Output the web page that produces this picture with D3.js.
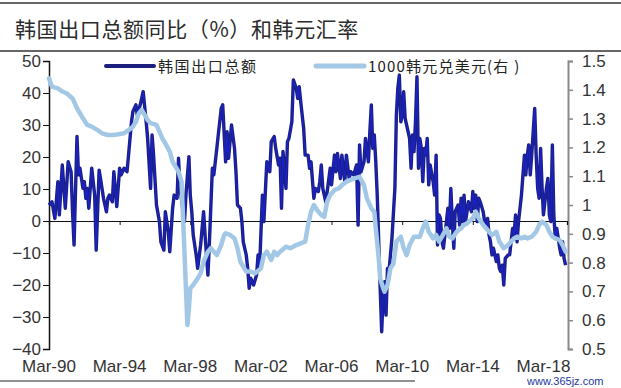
<!DOCTYPE html>
<html>
<head>
<meta charset="utf-8">
<script src="https://cdn.jsdelivr.net/npm/d3@7"></script>
<style>
  body { margin: 0; background: #fff; }
  text { font-family: "Liberation Sans", Arial, sans-serif; }
  .cjk { font-family: "Noto Sans CJK SC", sans-serif; }
</style>
</head>
<body>
<div id="chart"></div>
<script>
var title = "韩国出口总额同比（%）和韩元汇率";
var seriesNames = ["韩国出口总额", "1000韩元兑美元(右 )"];
var leftTicks = [-40, -30, -20, -10, 0, 10, 20, 30, 40, 50];
var rightTicks = [0.5, 0.6, 0.7, 0.8, 0.9, 1, 1.1, 1.2, 1.3, 1.4, 1.5];
var tickYears = [1990, 1994, 1998, 2002, 2006, 2010, 2014, 2018];

// 韩国出口总额同比 (%)
var exportDates = ["1990-03","1990-05","1990-07","1990-09","1990-10","1990-12","1991-02","1991-04","1991-06","1991-07","1991-08","1991-10","1991-11","1991-12","1992-02","1992-03","1992-04","1992-05","1992-06","1992-08","1992-10","1992-11","1993-01","1993-03","1993-04","1993-06","1993-07","1993-08","1993-10","1993-11","1994-01","1994-03","1994-04","1994-06","1994-08","1994-09","1994-11","1994-12","1995-02","1995-03","1995-05","1995-07","1995-09","1995-10","1995-12","1996-01","1996-02","1996-04","1996-06","1996-07","1996-09","1996-10","1996-12","1997-01","1997-03","1997-04","1997-06","1997-07","1997-08","1997-11","1997-12","1998-02","1998-03","1998-04","1998-05","1998-07","1998-08","1998-10","1998-11","1998-12","1999-01","1999-03","1999-04","1999-06","1999-07","1999-09","1999-10","1999-12","2000-01","2000-03","2000-04","2000-05","2000-07","2000-09","2000-10","2000-11","2001-01","2001-02","2001-03","2001-05","2001-06","2001-07","2001-08","2001-10","2001-12","2002-01","2002-02","2002-04","2002-05","2002-06","2002-07","2002-09","2002-10","2002-12","2003-01","2003-03","2003-04","2003-05","2003-06","2003-07","2003-08","2003-09","2003-10","2003-12","2004-01","2004-03","2004-04","2004-05","2004-06","2004-08","2004-09","2004-11","2004-12","2005-01","2005-02","2005-03","2005-04","2005-06","2005-07","2005-08","2005-09","2005-11","2005-12","2006-02","2006-03","2006-05","2006-06","2006-07","2006-09","2006-10","2006-12","2007-01","2007-03","2007-04","2007-06","2007-08","2007-09","2007-10","2007-11","2008-01","2008-02","2008-04","2008-05","2008-06","2008-07","2008-08","2008-09","2008-10","2008-11","2008-12","2009-01","2009-02","2009-03","2009-04","2009-05","2009-06","2009-08","2009-10","2009-11","2009-12","2010-01","2010-02","2010-03","2010-04","2010-05","2010-07","2010-08","2010-09","2010-10","2010-11","2010-12","2011-01","2011-02","2011-03","2011-04","2011-05","2011-06","2011-07","2011-08","2011-09","2011-10","2011-12","2012-01","2012-02","2012-03","2012-04","2012-05","2012-06","2012-07","2012-09","2012-10","2012-11","2012-12","2013-01","2013-02","2013-03","2013-05","2013-06","2013-07","2013-08","2013-09","2013-10","2013-11","2013-12","2014-02","2014-03","2014-04","2014-05","2014-06","2014-07","2014-08","2014-10","2014-11","2014-12","2015-01","2015-02","2015-03","2015-04","2015-05","2015-07","2015-08","2015-09","2015-10","2015-11","2015-12","2016-01","2016-03","2016-04","2016-05","2016-06","2016-07","2016-08","2016-09","2016-10","2016-12","2017-01","2017-02","2017-03","2017-04","2017-05","2017-06","2017-07","2017-09","2017-10","2017-11","2017-12","2018-01","2018-02","2018-03","2018-05","2018-06","2018-07","2018-08","2018-09","2018-10","2018-11","2018-12","2019-02","2019-03","2019-04","2019-05","2019-06"];
var exportYoY = [5.0,6.0,0.8,12.3,1.9,17.5,4.0,18.5,15.4,2.9,-7.5,26.4,14.4,16.5,10.2,12.3,7.1,10.2,4.0,16.5,8.1,-9.1,15.9,10.2,7.1,2.9,7.1,8.1,6.0,15.4,4.5,16.5,14.4,16.5,15.4,20.6,31.0,34.2,36.3,33.1,36.3,40.4,31.0,25.8,10.2,26.9,20.6,5.0,-0.2,-6.5,-9.1,2.9,-3.3,-9.6,4.0,8.1,7.1,19.6,10.2,-0.2,8.1,20.1,8.1,2.9,-4.4,-10.6,-14.8,-7.5,-2.3,2.9,-4.4,-16.9,-6.5,16.5,14.4,22.7,26.9,35.2,36.3,18.5,27.9,19.6,30.0,22.7,15.4,5.0,4.0,-0.2,-6.5,-10.6,-14.8,-21.0,-17.9,-20.0,-16.9,-10.6,-14.8,8.1,-0.2,9.2,18.5,15.4,24.8,26.4,22.7,17.5,19.6,4.0,21.7,16.5,10.2,24.8,25.8,31.0,44.1,41.5,38.3,42.0,37.3,29.0,20.6,20.6,16.5,18.5,12.3,7.1,10.2,9.2,12.3,17.5,10.2,6.0,9.2,16.5,11.3,20.6,15.4,21.1,13.3,20.6,12.3,20.6,13.3,15.4,14.4,17.5,-1.3,23.8,15.4,18.5,25.8,18.5,27.9,36.3,22.7,26.9,18.5,8.1,-6.5,-21.0,-34.6,-23.1,-19.0,-29.4,-14.8,-15.8,-5.4,10.2,33.1,41.5,45.6,31.0,33.1,40.4,32.1,27.9,25.8,16.5,26.9,21.7,31.0,45.1,16.5,25.8,22.7,12.3,22.7,20.6,25.8,11.3,17.5,12.3,8.1,20.6,-7.5,1.9,0.8,-6.5,-8.5,-0.2,4.0,-2.3,10.2,-0.2,-8.5,2.9,5.0,-1.3,7.1,-0.2,8.1,-0.2,2.9,6.0,2.9,9.2,4.0,8.1,-0.2,7.1,6.0,2.9,-0.2,-2.3,0.8,-4.4,-6.5,-10.6,-8.5,-12.7,-10.6,-14.8,-15.8,-13.8,-20.0,-11.7,-10.6,-10.6,-6.5,-2.3,-4.4,1.9,-6.5,-0.2,8.1,14.4,20.6,14.4,20.6,23.8,14.4,20.6,35.2,20.6,10.2,7.1,22.7,10.2,1.9,10.2,13.3,1.9,-0.2,23.8,1.9,-5.4,-2.3,-8.5,-10.6,-6.5,-11.7,-13.8];

// 1000韩元兑美元 (右轴)
var krwDates = ["1990-03","1990-05","1990-09","1990-12","1991-03","1991-07","1991-10","1992-02","1992-05","1992-08","1992-12","1993-03","1993-07","1993-10","1994-01","1994-06","1994-09","1994-12","1995-02","1995-04","1995-06","1995-08","1995-10","1995-12","1996-04","1996-06","1996-08","1996-10","1997-01","1997-03","1997-05","1997-07","1997-09","1997-10","1997-12","1998-01","1998-02","1998-03","1998-05","1998-08","1998-10","1998-12","1999-03","1999-05","1999-07","1999-09","1999-12","2000-02","2000-03","2000-06","2000-09","2000-11","2001-01","2001-05","2001-08","2001-11","2002-03","2002-05","2002-07","2002-10","2002-12","2003-02","2003-04","2003-08","2003-11","2004-03","2004-06","2004-09","2004-11","2005-01","2005-03","2005-05","2005-08","2005-10","2005-12","2006-02","2006-05","2006-08","2006-10","2007-01","2007-04","2007-07","2007-10","2008-01","2008-03","2008-06","2008-08","2008-09","2008-11","2008-12","2009-02","2009-03","2009-05","2009-07","2009-09","2009-11","2010-02","2010-04","2010-06","2010-08","2010-11","2011-03","2011-05","2011-07","2011-09","2011-12","2012-02","2012-04","2012-06","2012-09","2012-11","2013-01","2013-04","2013-07","2013-09","2013-11","2014-03","2014-05","2014-07","2014-10","2014-12","2015-02","2015-04","2015-07","2015-09","2015-12","2016-03","2016-05","2016-07","2016-09","2016-12","2017-02","2017-04","2017-07","2017-10","2017-12","2018-02","2018-05","2018-07","2018-09","2018-11","2019-02","2019-04","2019-06"];
var krwUsd = [1.440,1.411,1.405,1.394,1.388,1.370,1.336,1.301,1.278,1.272,1.260,1.249,1.243,1.243,1.245,1.249,1.260,1.272,1.289,1.318,1.330,1.313,1.295,1.284,1.278,1.255,1.231,1.214,1.185,1.150,1.133,1.116,1.081,0.965,0.711,0.583,0.641,0.711,0.722,0.745,0.763,0.803,0.838,0.850,0.838,0.826,0.861,0.896,0.902,0.896,0.884,0.850,0.803,0.769,0.769,0.763,0.780,0.826,0.838,0.809,0.838,0.826,0.838,0.855,0.850,0.861,0.867,0.873,0.931,0.977,1.000,0.983,0.965,0.959,1.012,1.035,1.052,1.058,1.069,1.081,1.087,1.093,1.098,1.069,1.023,0.988,0.977,0.919,0.815,0.745,0.711,0.699,0.722,0.780,0.797,0.873,0.890,0.850,0.826,0.861,0.890,0.890,0.919,0.942,0.907,0.884,0.896,0.873,0.890,0.919,0.890,0.884,0.907,0.919,0.931,0.936,0.954,0.977,0.954,0.931,0.919,0.907,0.896,0.907,0.873,0.850,0.861,0.873,0.884,0.890,0.884,0.890,0.884,0.890,0.907,0.931,0.942,0.931,0.907,0.890,0.884,0.878,0.861,0.838];

var width = 621, height = 388;
var parse = d3.timeParse("%Y-%m");

var svg = d3.select("#chart").append("svg")
    .attr("width", width)
    .attr("height", height);

// header
svg.append("line").attr("x1", 0).attr("x2", width).attr("y1", 3).attr("y2", 3)
    .attr("stroke", "#333").attr("stroke-width", 1.5);
svg.append("text").attr("class", "cjk")
    .attr("x", 15).attr("y", 37)
    .attr("font-size", 21).attr("letter-spacing", 0.6)
    .attr("fill", "#2b2b2b")
    .text(title);
svg.append("line").attr("x1", 0).attr("x2", width).attr("y1", 51).attr("y2", 51)
    .attr("stroke", "#333").attr("stroke-width", 1.5);

var x = d3.scaleTime()
    .domain([new Date(1990, 2, 1), new Date(2019, 6, 1)])
    .range([49, 567]);
var yL = d3.scaleLinear().domain([-40, 50]).range([349, 61]);
var yR = d3.scaleLinear().domain([0.5, 1.5]).range([349, 61]);

// left axis
var gL = svg.append("g").attr("transform", "translate(49,0)")
    .call(d3.axisLeft(yL).tickValues(leftTicks).tickSize(6).tickPadding(2));
gL.select(".domain").attr("stroke", "#111").attr("stroke-width", 1.5);
gL.selectAll(".tick line").attr("stroke", "#111");
gL.selectAll("text").attr("font-size", 17).attr("fill", "#333")
    .attr("font-family", "Liberation Sans, Arial, sans-serif");

// right axis
var gR = svg.append("g").attr("transform", "translate(568,0)")
    .call(d3.axisRight(yR).tickValues(rightTicks).tickSize(5).tickPadding(9)
        .tickFormat(d3.format("~g")));
gR.select(".domain").attr("stroke", "#8a8a8a").attr("stroke-width", 2);
gR.selectAll(".tick line").attr("stroke", "#8a8a8a").attr("stroke-width", 1.5);
gR.selectAll("text").attr("font-size", 17).attr("fill", "#333")
    .attr("font-family", "Liberation Sans, Arial, sans-serif");

// zero line with ticks
var tickDates = tickYears.map(function (yr) { return new Date(yr, 2, 1); });
var gX = svg.append("g").attr("transform", "translate(0," + yL(0) + ")")
    .call(d3.axisBottom(x).tickValues(tickDates).tickSize(4).tickFormat(""));
gX.select(".domain").attr("stroke", "#111").attr("stroke-width", 1.2);
gX.selectAll(".tick line").attr("stroke", "#111");

// bottom labels
svg.append("g").selectAll("text")
    .data(tickDates)
    .enter().append("text")
    .attr("x", function (d) { return x(d); })
    .attr("y", 372)
    .attr("text-anchor", "middle")
    .attr("font-size", 17)
    .attr("fill", "#333")
    .text(d3.timeFormat("%b-%y"));

// series
var exportData = exportDates.map(function (d, i) { return { date: parse(d), value: exportYoY[i] }; });
var krwData = krwDates.map(function (d, i) { return { date: parse(d), value: krwUsd[i] }; });

var lineL = d3.line().x(function (d) { return x(d.date); }).y(function (d) { return yL(d.value); });
var lineR = d3.line().x(function (d) { return x(d.date); }).y(function (d) { return yR(d.value); });

svg.append("path").datum(exportData)
    .attr("fill", "none").attr("stroke", "#1b1f7e").attr("stroke-width", 3.4)
    .attr("stroke-linejoin", "round")
    .attr("d", lineL);
svg.append("path").datum(exportData)
    .attr("fill", "none").attr("stroke", "#1a22c4").attr("stroke-width", 1.3)
    .attr("stroke-linejoin", "round")
    .attr("d", lineL);

svg.append("path").datum(krwData)
    .attr("fill", "none").attr("stroke", "#a3c8e6").attr("stroke-width", 4.5)
    .attr("stroke-linejoin", "round").attr("stroke-linecap", "round")
    .attr("d", lineR);

// legend
var legend = svg.append("g");
legend.append("line").attr("x1", 106).attr("x2", 154).attr("y1", 66).attr("y2", 66)
    .attr("stroke", "#1b1f7e").attr("stroke-width", 4).attr("stroke-linecap", "round");
legend.append("text").attr("class", "cjk").attr("x", 158).attr("y", 72)
    .attr("font-size", 15).attr("letter-spacing", 1.6).attr("fill", "#222")
    .text(seriesNames[0]);
legend.append("line").attr("x1", 316).attr("x2", 364).attr("y1", 66).attr("y2", 66)
    .attr("stroke", "#a3c8e6").attr("stroke-width", 5).attr("stroke-linecap", "round");
legend.append("text").attr("class", "cjk").attr("x", 368).attr("y", 72)
    .attr("font-size", 15).attr("letter-spacing", 1.2).attr("fill", "#222")
    .text(seriesNames[1]);

// footer
svg.append("line").attr("x1", 0).attr("x2", 415).attr("y1", 381).attr("y2", 381)
    .attr("stroke", "#222").attr("stroke-width", 1.2);
svg.append("text").attr("x", 527).attr("y", 385)
    .attr("font-family", "Liberation Serif, DejaVu Serif, serif")
    .attr("font-size", 11).attr("fill", "#1d3a9c")
    .text("www.365jz.com");
</script>
</body>
</html>
